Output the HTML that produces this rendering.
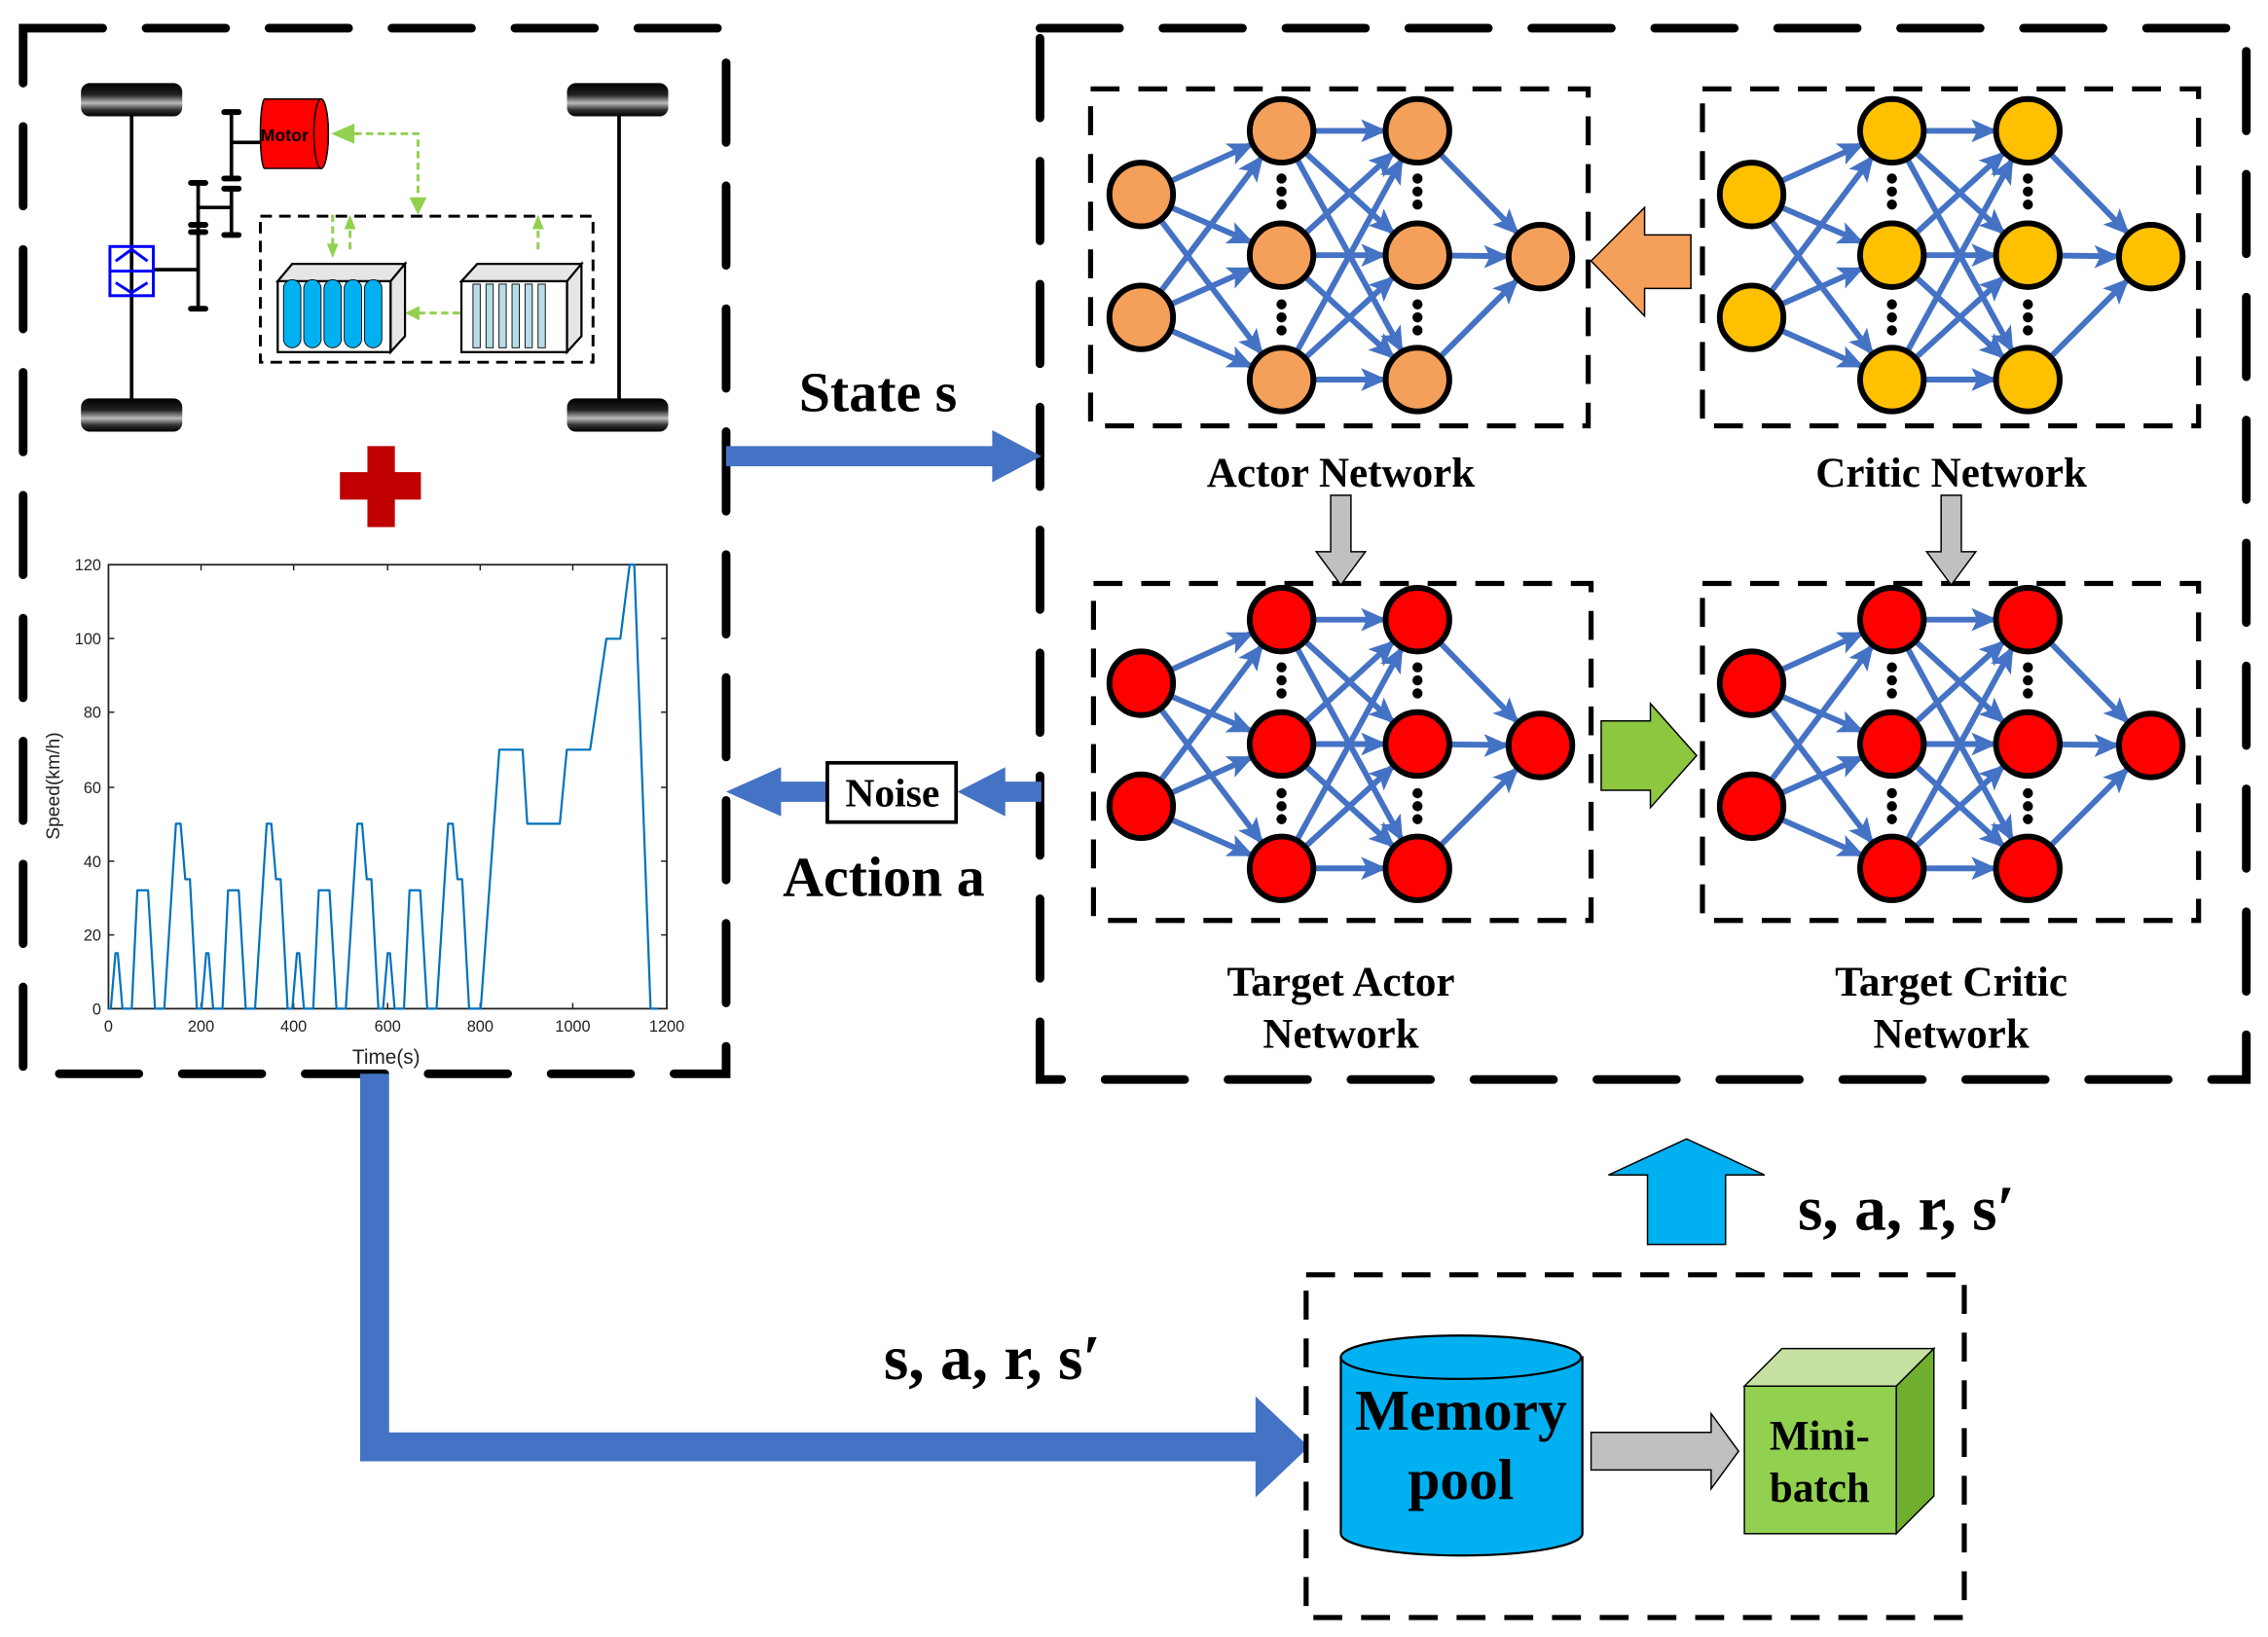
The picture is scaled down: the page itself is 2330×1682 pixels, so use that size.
<!DOCTYPE html>
<html><head><meta charset="utf-8"><style>
html,body{margin:0;padding:0;background:#fff}
svg{display:block}
.t{font-family:"Liberation Serif",serif;font-weight:bold;fill:#000}
</style></head><body>
<svg width="2330" height="1682" viewBox="0 0 1568 1131" xmlns="http://www.w3.org/2000/svg">
<defs>
<path id="a" d="M1,0 L-17,-8 L-13,0 L-17,8 z" fill="#4472C4"/>
<linearGradient id="tire" x1="0" y1="0" x2="0" y2="1">
<stop offset="0" stop-color="#000"/><stop offset="0.35" stop-color="#222"/><stop offset="0.6" stop-color="#bbb"/><stop offset="0.8" stop-color="#333"/><stop offset="1" stop-color="#000"/>
</linearGradient>
<g id="edges">
<g stroke="#4472C4" stroke-width="4">
<line x1="789" y1="134" x2="886" y2="90"/><line x1="789" y1="134" x2="886" y2="176"/><line x1="789" y1="134" x2="886" y2="262"/>
<line x1="789" y1="219" x2="886" y2="90"/><line x1="789" y1="219" x2="886" y2="176"/><line x1="789" y1="219" x2="886" y2="262"/>
<line x1="886" y1="90" x2="980" y2="90"/><line x1="886" y1="90" x2="980" y2="176"/><line x1="886" y1="90" x2="980" y2="262"/>
<line x1="886" y1="176" x2="980" y2="90"/><line x1="886" y1="176" x2="980" y2="176"/><line x1="886" y1="176" x2="980" y2="262"/>
<line x1="886" y1="262" x2="980" y2="90"/><line x1="886" y1="262" x2="980" y2="176"/><line x1="886" y1="262" x2="980" y2="262"/>
<line x1="980" y1="90" x2="1065" y2="177"/><line x1="980" y1="176" x2="1065" y2="177"/><line x1="980" y1="262" x2="1065" y2="177"/>
</g>
<use href="#a" transform="translate(866,99.1) rotate(-24.4)"/>
<use href="#a" transform="translate(865.8,167.3) rotate(23.4)"/>
<use href="#a" transform="translate(872.7,244.5) rotate(52.8)"/>
<use href="#a" transform="translate(872.8,107.6) rotate(-53.1)"/>
<use href="#a" transform="translate(865.9,184.9) rotate(-23.9)"/>
<use href="#a" transform="translate(865.9,253.1) rotate(23.9)"/>
<use href="#a" transform="translate(958,90)"/>
<use href="#a" transform="translate(963.8,161.1) rotate(42.5)"/>
<use href="#a" transform="translate(969.4,242.7) rotate(61.3)"/>
<use href="#a" transform="translate(963.8,104.9) rotate(-42.5)"/>
<use href="#a" transform="translate(958,176)"/>
<use href="#a" transform="translate(963.8,247.1) rotate(42.5)"/>
<use href="#a" transform="translate(969.4,109.3) rotate(-61.3)"/>
<use href="#a" transform="translate(963.8,190.9) rotate(-42.5)"/>
<use href="#a" transform="translate(958,262)"/>
<use href="#a" transform="translate(1049.6,161.3) rotate(45.7)"/>
<use href="#a" transform="translate(1043,177)"/>
<use href="#a" transform="translate(1049.4,192.6) rotate(-45)"/>
</g>
<g id="nodes" stroke="#000" stroke-width="4">
<circle cx="789" cy="134" r="22"/><circle cx="789" cy="219" r="22"/>
<circle cx="886" cy="90" r="22"/><circle cx="886" cy="176" r="22"/><circle cx="886" cy="262" r="22"/>
<circle cx="980" cy="90" r="22"/><circle cx="980" cy="176" r="22"/><circle cx="980" cy="262" r="22"/>
<circle cx="1065" cy="177" r="22"/>
</g>
<g id="dots" fill="#000">
<circle cx="886" cy="123" r="3.5"/><circle cx="886" cy="132" r="3.5"/><circle cx="886" cy="141" r="3.5"/>
<circle cx="886" cy="210" r="3.5"/><circle cx="886" cy="219" r="3.5"/><circle cx="886" cy="228" r="3.5"/>
<circle cx="980" cy="123" r="3.5"/><circle cx="980" cy="132" r="3.5"/><circle cx="980" cy="141" r="3.5"/>
<circle cx="980" cy="210" r="3.5"/><circle cx="980" cy="219" r="3.5"/><circle cx="980" cy="228" r="3.5"/>
</g>
</defs>

<rect x="16" y="19" width="486" height="723" fill="none" stroke="#000" stroke-width="6" stroke-dasharray="55,30" stroke-linecap="round"/>
<rect x="719" y="19" width="834" height="727" fill="none" stroke="#000" stroke-width="6" stroke-dasharray="55,30" stroke-linecap="round"/>

<g stroke="#000" stroke-width="2.5">
<line x1="91" y1="78" x2="91" y2="280"/><line x1="428" y1="78" x2="428" y2="280"/>
<line x1="107" y1="186" x2="137" y2="186"/>
<line x1="137" y1="126" x2="137" y2="213"/><line x1="137" y1="143" x2="160" y2="143"/>
<line x1="160" y1="77" x2="160" y2="123"/><line x1="160" y1="130" x2="160" y2="162"/><line x1="160" y1="98" x2="183" y2="98"/>
</g>
<g stroke="#000" stroke-width="4" stroke-linecap="round">
<line x1="132" y1="126" x2="142" y2="126"/><line x1="132" y1="155" x2="142" y2="155"/><line x1="132" y1="160" x2="142" y2="160"/><line x1="132" y1="213" x2="142" y2="213"/>
<line x1="155" y1="77" x2="165" y2="77"/><line x1="155" y1="123" x2="165" y2="123"/><line x1="155" y1="130" x2="165" y2="130"/><line x1="155" y1="162" x2="165" y2="162"/>
</g>
<rect x="56" y="57" width="70" height="23" rx="6" fill="url(#tire)"/>
<rect x="392" y="57" width="70" height="23" rx="6" fill="url(#tire)"/>
<rect x="56" y="275" width="70" height="23" rx="6" fill="url(#tire)"/>
<rect x="392" y="275" width="70" height="23" rx="6" fill="url(#tire)"/>
<rect x="76" y="170" width="30" height="34" fill="none" stroke="#00f" stroke-width="2"/>
<path d="M80,180 L91,172 L102,180 M80,195 L91,202 L102,195 M76,187 L106,187" fill="none" stroke="#00f" stroke-width="2"/>
<path d="M183,68 L222,68 A5,24 0 0 1 222,116 L183,116 A3,24 0 0 1 183,68 z" fill="#f00" stroke="#000" stroke-width="1"/>
<ellipse cx="222" cy="92" rx="5" ry="24" fill="#f00" stroke="#000" stroke-width="1"/>
<text x="180" y="97" font-family="Liberation Sans,sans-serif" font-weight="bold" font-size="12">Motor</text>
<g stroke="#92D050" stroke-width="2" stroke-dasharray="5,3" fill="none">
<path d="M245,92 L289,92 L289,140"/><line x1="230" y1="148" x2="230" y2="172"/><line x1="242" y1="172" x2="242" y2="152"/><line x1="372" y1="172" x2="372" y2="152"/><line x1="318" y1="216" x2="286" y2="216"/>
</g>
<g fill="#92D050"><path d="M229,92 L245,85 L245,99 z"/><path d="M289,148 L283,136 L295,136 z"/><path d="M230,178 L226,168 L234,168 z"/><path d="M242,148 L238,158 L246,158 z"/><path d="M372,148 L368,158 L376,158 z"/><path d="M280,216 L290,211 L290,221 z"/></g>
<rect x="180" y="149" width="230" height="101" fill="none" stroke="#000" stroke-width="2" stroke-dasharray="8,5"/>
<path d="M192,194 L202,182 L280,182 L270,194 z M270,194 L280,182 L280,232 L270,243 z" fill="#e6e6e6" stroke="#000" stroke-width="1.5"/>
<rect x="192" y="194" width="78" height="49" fill="#fff" stroke="#000" stroke-width="1.5"/>
<g fill="#00B0F0" stroke="#000" stroke-width="0.6">
<rect x="196" y="193" width="12" height="47" rx="6"/><rect x="210" y="193" width="12" height="47" rx="6"/><rect x="224" y="193" width="12" height="47" rx="6"/><rect x="238" y="193" width="12" height="47" rx="6"/><rect x="252" y="193" width="12" height="47" rx="6"/>
</g>
<path d="M319,194 L330,182 L402,182 L392,194 z M392,194 L402,182 L402,232 L392,243 z" fill="#e6e6e6" stroke="#000" stroke-width="1.5"/>
<rect x="319" y="194" width="73" height="49" fill="#fff" stroke="#000" stroke-width="1.5"/>
<g fill="#b7dde8" stroke="#000" stroke-width="0.6"><rect x="327" y="196" width="5" height="44"/><rect x="336" y="196" width="5" height="44"/><rect x="345" y="196" width="5" height="44"/><rect x="354" y="196" width="5" height="44"/><rect x="363" y="196" width="5" height="44"/><rect x="372" y="196" width="5" height="44"/></g>

<rect x="235" y="326" width="56" height="19" fill="#C00000"/><rect x="254" y="308" width="19" height="56" fill="#C00000"/>

<rect x="75" y="390" width="386" height="307" fill="none" stroke="#222" stroke-width="1.2"/>
<g stroke="#222" stroke-width="1">
<line x1="75" y1="441" x2="79" y2="441"/><line x1="75" y1="492" x2="79" y2="492"/><line x1="75" y1="544" x2="79" y2="544"/><line x1="75" y1="595" x2="79" y2="595"/><line x1="75" y1="646" x2="79" y2="646"/>
<line x1="461" y1="441" x2="457" y2="441"/><line x1="461" y1="492" x2="457" y2="492"/><line x1="461" y1="544" x2="457" y2="544"/><line x1="461" y1="595" x2="457" y2="595"/><line x1="461" y1="646" x2="457" y2="646"/>
<line x1="139" y1="697" x2="139" y2="693"/><line x1="203" y1="697" x2="203" y2="693"/><line x1="268" y1="697" x2="268" y2="693"/><line x1="332" y1="697" x2="332" y2="693"/><line x1="396" y1="697" x2="396" y2="693"/>
<line x1="139" y1="390" x2="139" y2="394"/><line x1="203" y1="390" x2="203" y2="394"/><line x1="268" y1="390" x2="268" y2="394"/><line x1="332" y1="390" x2="332" y2="394"/><line x1="396" y1="390" x2="396" y2="394"/>
</g>
<g font-family="Liberation Sans,sans-serif" font-size="11" fill="#222" text-anchor="end">
<text x="70" y="394">120</text><text x="70" y="445">100</text><text x="70" y="496">80</text><text x="70" y="548">60</text><text x="70" y="599">40</text><text x="70" y="650">20</text><text x="70" y="701">0</text>
</g>
<g font-family="Liberation Sans,sans-serif" font-size="11" fill="#222" text-anchor="middle">
<text x="75" y="713">0</text><text x="139" y="713">200</text><text x="203" y="713">400</text><text x="268" y="713">600</text><text x="332" y="713">800</text><text x="396" y="713">1000</text><text x="461" y="713">1200</text>
<text x="267" y="735" font-size="14">Time(s)</text>
<text transform="translate(41,543) rotate(-90)" font-size="13">Speed(km/h)</text>
</g>
<g transform="translate(75,697) scale(0.3217,-2.558)">
<polyline vector-effect="non-scaling-stroke" fill="none" stroke="#0072BD" stroke-width="2.2" stroke-linejoin="round" points="0,0 5,0 15,15 20,15 30,0 50,0 62,32 85,32 100,0 120,0 145,50 155,50 165,35 175,35 190,0 200,0 210,15 215,15 225,0 245,0 257,32 280,32 295,0 315,0 340,50 350,50 360,35 370,35 385,0 395,0 405,15 410,15 420,0 440,0 452,32 475,32 490,0 510,0 535,50 545,50 555,35 565,35 580,0 590,0 600,15 605,15 615,0 635,0 647,32 670,32 685,0 705,0 730,50 740,50 750,35 760,35 775,0 800,0 840,70 890,70 900,50 970,50 985,70 1035,70 1070,100 1100,100 1120,120 1130,120 1165,0 1180,0"/>
</g>

<use href="#edges"/><use href="#nodes" fill="#F4A05A"/><use href="#dots"/>
<use href="#edges" transform="translate(422,0)"/><use href="#nodes" fill="#FFC000" transform="translate(422,0)"/><use href="#dots" transform="translate(422,0)"/>
<use href="#edges" transform="translate(0,338)"/><use href="#nodes" fill="#f00" transform="translate(0,338)"/><use href="#dots" transform="translate(0,338)"/>
<use href="#edges" transform="translate(422,338)"/><use href="#nodes" fill="#f00" transform="translate(422,338)"/><use href="#dots" transform="translate(422,338)"/>
<g fill="none" stroke="#000" stroke-width="3.5" stroke-dasharray="20,13">
<rect x="754" y="61" width="344" height="233"/><rect x="1177" y="61" width="343" height="233"/>
<rect x="756" y="403" width="344" height="233"/><rect x="1177" y="403" width="343" height="233"/>
</g>
<g class="t" font-size="29" text-anchor="middle">
<text x="927" y="336">Actor Network</text><text x="1349" y="336">Critic Network</text>
<text x="927" y="688">Target Actor</text><text x="927" y="724">Network</text>
<text x="1349" y="688">Target Critic</text><text x="1349" y="724">Network</text>
</g>
<path d="M1169,162 L1137,162 L1137,143 L1100,180 L1137,218 L1137,199 L1169,199 z" fill="#F4A05A" stroke="#000" stroke-width="1"/>
<path d="M1107,498 L1141,498 L1141,486 L1173,522 L1141,558 L1141,546 L1107,546 z" fill="#8DC63F" stroke="#000" stroke-width="1"/>
<path d="M920,342 L934,342 L934,381 L944,381 L927,404 L910,381 L920,381 z" fill="#C0C0C0" stroke="#000" stroke-width="1"/>
<path d="M1342,342 L1356,342 L1356,381 L1366,381 L1349,404 L1332,381 L1342,381 z" fill="#C0C0C0" stroke="#000" stroke-width="1"/>

<path d="M502,308 L686,308 L686,297 L720,315 L686,333 L686,322 L502,322 z" fill="#4472C4"/>
<text class="t" x="607" y="284" font-size="39" text-anchor="middle">State s</text>
<path d="M720,540 L695,540 L695,530 L662,547 L695,564 L695,554 L720,554 z" fill="#4472C4"/>
<path d="M572,540 L540,540 L540,530 L502,547 L540,564 L540,554 L572,554 z" fill="#4472C4"/>
<rect x="572" y="527" width="89" height="41" fill="#fff" stroke="#000" stroke-width="2.5"/>
<text class="t" x="617" y="557" font-size="28" text-anchor="middle" font-weight="normal">Noise</text>
<text class="t" x="611" y="619" font-size="39" text-anchor="middle">Action a</text>

<path d="M249,742 L269,742 L269,990 L868,990 L868,965 L905,1000 L868,1035 L868,1010 L249,1010 z" fill="#4472C4"/>
<text class="t" x="686" y="953" font-size="44" text-anchor="middle">s, a, r, s′</text>
<text class="t" x="1318" y="850" font-size="44" text-anchor="middle">s, a, r, s′</text>
<path d="M1139,860 L1193,860 L1193,812 L1220,812 L1166,787 L1112,812 L1139,812 z" fill="#00B0F0" stroke="#000" stroke-width="1"/>
<rect x="903" y="881" width="455" height="237" fill="none" stroke="#000" stroke-width="3.5" stroke-dasharray="20,13"/>
<path d="M927,938 L927,1060 A83,15 0 0 0 1094,1060 L1094,938 z" fill="#00B0F0" stroke="#000" stroke-width="1.5"/>
<ellipse cx="1010" cy="938" rx="83" ry="15" fill="#00B0F0" stroke="#000" stroke-width="1.5"/>
<text class="t" x="1010" y="988" font-size="40" text-anchor="middle">Memory</text>
<text class="t" x="1010" y="1036" font-size="40" text-anchor="middle">pool</text>
<path d="M1100,990 L1183,990 L1183,977 L1202,1003 L1183,1029 L1183,1016 L1100,1016 z" fill="#C0C0C0" stroke="#000" stroke-width="1"/>
<path d="M1206,958 L1232,932 L1337,932 L1311,958 z" fill="#C5E0A0" stroke="#000" stroke-width="1"/>
<path d="M1311,958 L1337,932 L1337,1034 L1311,1060 z" fill="#6FAE2F" stroke="#000" stroke-width="1"/>
<rect x="1206" y="958" width="105" height="102" fill="#92D050" stroke="#000" stroke-width="1"/>
<text class="t" x="1258" y="1002" font-size="29" text-anchor="middle">Mini-</text>
<text class="t" x="1258" y="1038" font-size="29" text-anchor="middle">batch</text>
</svg>
</body></html>
